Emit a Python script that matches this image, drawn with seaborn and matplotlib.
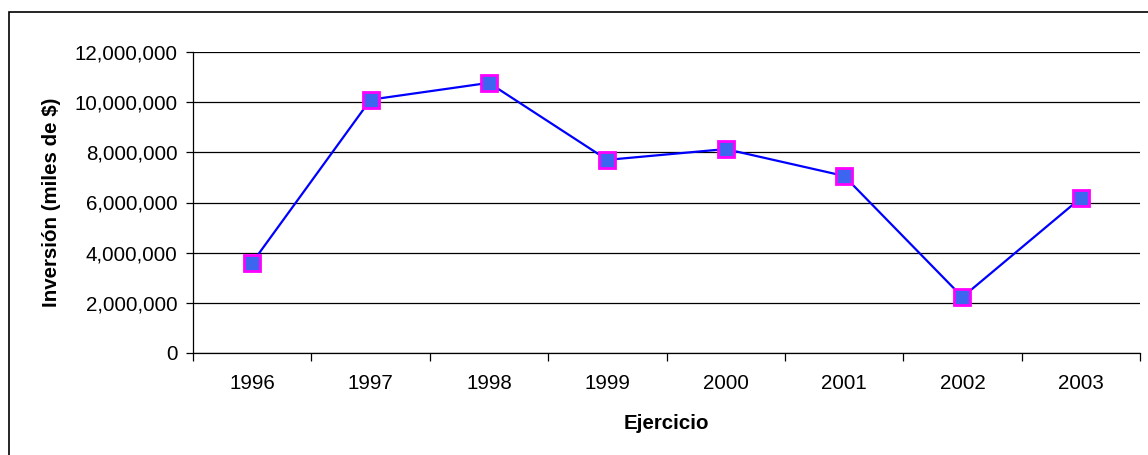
import matplotlib
matplotlib.use("Agg")
import matplotlib.pyplot as plt
import matplotlib.ticker as mticker
from matplotlib.patches import Rectangle
import seaborn as sns
import pandas as pd

# datos
ejercicios = ['1996', '1997', '1998', '1999', '2000', '2001', '2002', '2003']
inversion = [3600000, 10100000, 10770000, 7700000, 8130000, 7060000, 2230000, 6180000]

df = pd.DataFrame({'pos': range(len(ejercicios)), 'inversion': inversion})

sns.set_style('white')
plt.rcParams['font.family'] = ['Liberation Sans', 'DejaVu Sans']
plt.rcParams['text.color'] = 'black'
plt.rcParams['axes.labelcolor'] = 'black'
plt.rcParams['xtick.color'] = 'black'
plt.rcParams['ytick.color'] = 'black'

fs = 14.8

fig = plt.figure(figsize=(11.48, 4.55), dpi=100)
ax = fig.add_axes([193/1148, 1 - 353/455, (1140 - 193)/1148, (353 - 52)/455])

# marco exterior
fig.patches.append(Rectangle((9/1148, -0.05), 1.2, 0.05 + (1 - 12/455), transform=fig.transFigure,
                             fill=False, edgecolor='black', linewidth=1.2))

sns.lineplot(data=df, x='pos', y='inversion', ax=ax, color='#0000FF', linewidth=1.6,
             marker='s', markersize=11, markerfacecolor='#3D66F0',
             markeredgecolor='#FF00FF', markeredgewidth=2)

ax.set_xlim(-0.5, len(ejercicios) - 0.5)
ax.set_ylim(0, 12000000)
ax.set_yticks(range(0, 12000001, 2000000))
ax.yaxis.set_major_formatter(mticker.FuncFormatter(lambda v, p: f'{int(v):,}'))
ax.grid(axis='y', color='black', linewidth=0.9)
ax.set_axisbelow(True)

ax.set_xticks(range(len(ejercicios)))
ax.set_xticklabels(ejercicios)
ax.set_xticks([i + 0.5 for i in range(-1, len(ejercicios))], minor=True)
ax.tick_params(axis='x', which='major', length=0, pad=15, labelsize=fs)
ax.tick_params(axis='x', which='minor', length=6, width=0.9, direction='out', color='black')
ax.tick_params(axis='y', length=5, width=0.9, direction='out', color='black', labelsize=fs, pad=6)
ax.tick_params(which='both', bottom=True, left=True)

for s in ['top', 'right']:
    ax.spines[s].set_visible(False)
for s in ['left', 'bottom']:
    ax.spines[s].set_color('black')
    ax.spines[s].set_linewidth(0.9)

ax.set_xlabel('Ejercicio', fontsize=fs, fontweight='bold', labelpad=15)
ax.set_ylabel('Inversión (miles de $)', fontsize=fs, fontweight='bold', labelpad=10)

fig.savefig('out.png', dpi=100)
